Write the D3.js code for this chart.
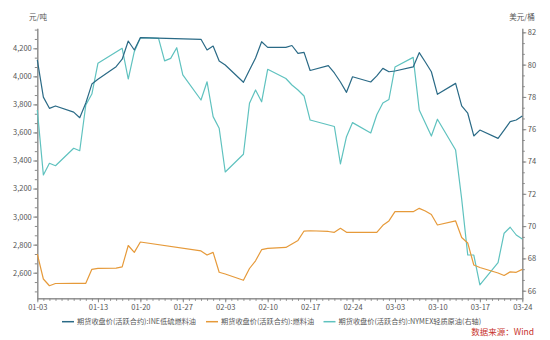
<!DOCTYPE html>
<html><head><meta charset="utf-8">
<script src="https://cdn.jsdelivr.net/npm/d3@7"></script>
<style>html,body{margin:0;padding:0;background:#fff;}svg{display:block;}</style>
</head><body><svg id="c" width="550" height="340"></svg>
<script>
const year = 2023;
const cnDates = ["01-03","01-04","01-05","01-06","01-09","01-10","01-11","01-12","01-13","01-16","01-17","01-18","01-19","01-20","01-30","01-31","02-01","02-02","02-03","02-06","02-07","02-08","02-09","02-10","02-13","02-14","02-15","02-16","02-17","02-20","02-21","02-22","02-23","02-24","02-27","02-28","03-01","03-02","03-03","03-06","03-07","03-08","03-09","03-10","03-13","03-14","03-15","03-16","03-17","03-20","03-21","03-22","03-23","03-24"];
const ineValues = [4117,3852,3772,3789,3745,3705,3810,3945,3979,4069,4122,4252,4188,4276,4264,4188,4216,4109,4081,3958,4045,4131,4247,4207,4207,4220,4164,4171,4042,4076,4024,3960,3886,3997,3960,4003,4057,4033,4038,4067,4169,4102,4033,3872,3950,3789,3737,3575,3617,3558,3617,3677,3689,3717];
const fuValues = [2733,2555,2507,2523,2524,2524,2524,2624,2631,2633,2641,2794,2745,2819,2755,2726,2745,2603,2591,2546,2630,2685,2764,2774,2780,2805,2830,2897,2899,2894,2888,2917,2888,2888,2888,2888,2938,2969,3035,3035,3059,3040,3015,2940,2969,2851,2812,2655,2637,2598,2580,2606,2603,2624];
const usDates = ["01-03","01-04","01-05","01-06","01-09","01-10","01-11","01-12","01-13","01-17","01-18","01-19","01-20","01-23","01-24","01-25","01-26","01-27","01-30","01-31","02-01","02-02","02-03","02-06","02-07","02-08","02-09","02-10","02-13","02-14","02-15","02-16","02-17","02-21","02-22","02-23","02-24","02-27","02-28","03-01","03-02","03-03","03-06","03-07","03-08","03-09","03-10","03-13","03-14","03-15","03-16","03-17","03-20","03-21","03-22","03-23","03-24"];
const wtiValues = [77.19,73.17,73.89,73.74,74.82,74.67,77.5,78.18,80.08,81.01,79.11,80.80,81.67,81.63,80.23,80.39,81.05,79.36,77.81,78.94,76.78,76.06,73.35,74.45,77.61,78.43,77.70,79.71,79.14,78.74,78.43,78.06,76.57,76.17,73.85,75.54,76.41,75.77,76.9,77.62,77.84,79.85,80.45,77.19,76.39,75.58,76.62,74.71,71.68,68.21,68.21,66.36,67.74,69.56,69.93,69.45,69.2];
const xTickLabels = ["01-03","01-13","01-20","01-27","02-03","02-10","02-17","02-24","03-03","03-10","03-17","03-24"];
const leftTicks = [2600,2800,3000,3200,3400,3600,3800,4000,4200];
const rightTicks = [66,68,70,72,74,76,78,80,82];
const seriesNames = ["期货收盘价(活跃合约):INE低硫燃料油","期货收盘价(活跃合约):燃料油","期货收盘价(活跃合约):NYMEX轻质原油(右轴)"];
const colors = ["#2a6a86","#e69a3a","#5fc2bf"];

const parse = s => new Date(year, +s.slice(0,2)-1, +s.slice(3));
const svg = d3.select("#c");
const FONT = "'Noto Sans CJK SC','Noto Sans',sans-serif";
const L = 37.3, R = 522.3, T = 28.3, B = 298.3;

const x = d3.scaleTime().domain([parse("01-03"), parse("03-24")]).range([L, R]);
const yL = d3.scaleLinear().domain([2417.5, 4342.6]).range([B, T]);
const yR = d3.scaleLinear().domain([65.53, 82.25]).range([B, T]);

const axisColor = "#8a8a8a", textColor = "#555";

function styleAxis(g){
  g.selectAll("path.domain").attr("stroke", axisColor).attr("stroke-width",1);
  g.selectAll(".tick line").attr("stroke", axisColor);
  g.selectAll(".tick text").attr("fill", textColor).attr("font-family", FONT).attr("font-size", 7.5);
}

// minor ticks left
const minorL = d3.range(2600 - 2*200/3, 4342, 200/3).filter(v => v > 2417.5);
svg.append("g").attr("transform", `translate(${L},0)`)
  .call(d3.axisLeft(yL).tickValues(minorL).tickSize(2.5).tickFormat("").tickSizeOuter(0)).call(styleAxis);
svg.append("g").attr("transform", `translate(${L},0)`)
  .call(d3.axisLeft(yL).tickValues(leftTicks).tickSize(4).tickPadding(1.5).tickFormat(d3.format(",")).tickSizeOuter(0)).call(styleAxis);

// right
const minorR = d3.range(66 - 2/3, 82.25, 2/3).filter(v => v > 65.53);
svg.append("g").attr("transform", `translate(${R},0)`)
  .call(d3.axisRight(yR).tickValues(minorR).tickSize(2.5).tickFormat("").tickSizeOuter(0)).call(styleAxis);
svg.append("g").attr("transform", `translate(${R},0)`)
  .call(d3.axisRight(yR).tickValues(rightTicks).tickSize(4).tickPadding(1.5).tickFormat(d3.format("d")).tickSizeOuter(0)).call(styleAxis);

// x axis
const days = d3.timeDay.range(parse("01-03"), d3.timeDay.offset(parse("03-24"),1));
svg.append("g").attr("transform", `translate(0,${B})`)
  .call(d3.axisBottom(x).tickValues(days).tickSize(2.5).tickFormat("").tickSizeOuter(0)).call(styleAxis);
svg.append("g").attr("transform", `translate(0,${B})`)
  .call(d3.axisBottom(x).tickValues(xTickLabels.map(parse)).tickSize(4).tickPadding(2.5).tickFormat(d3.timeFormat("%m-%d")).tickSizeOuter(0)).call(styleAxis);

// unit labels
svg.append("text").attr("x", 38).attr("y", 19.5).attr("text-anchor","middle")
  .attr("font-family", FONT).attr("font-size", 7.5).attr("fill", textColor).text("元/吨");
svg.append("text").attr("x", 522).attr("y", 19.5).attr("text-anchor","middle")
  .attr("font-family", FONT).attr("font-size", 7.5).attr("fill", textColor).text("美元/桶");

// lines
const lineL = d3.line().x(d => x(d[0])).y(d => yL(d[1]));
const lineR = d3.line().x(d => x(d[0])).y(d => yR(d[1]));
const ineData = cnDates.map((d,i) => [parse(d), ineValues[i]]);
const fuData = cnDates.map((d,i) => [parse(d), fuValues[i]]);
const wtiData = usDates.map((d,i) => [parse(d), wtiValues[i]]);

svg.append("path").datum(wtiData).attr("d", lineR).attr("fill","none").attr("stroke", colors[2]).attr("stroke-width",1.2).attr("stroke-linejoin","round");
svg.append("path").datum(fuData).attr("d", lineL).attr("fill","none").attr("stroke", colors[1]).attr("stroke-width",1.2).attr("stroke-linejoin","round");
svg.append("path").datum(ineData).attr("d", lineL).attr("fill","none").attr("stroke", colors[0]).attr("stroke-width",1.2).attr("stroke-linejoin","round");

// legend
const legendX = [62, 206, 323.5];
const lg = svg.append("g");
seriesNames.forEach((n,i) => {
  lg.append("line").attr("x1", legendX[i]).attr("x2", legendX[i]+12).attr("y1", 321.7).attr("y2", 321.7)
    .attr("stroke", colors[i]).attr("stroke-width", 1.5);
  lg.append("text").attr("x", legendX[i]+15).attr("y", 324.3).attr("font-family", FONT).attr("font-size", 7.2)
    .attr("fill", textColor).text(n);
});

svg.append("text").attr("x", 534).attr("y", 334.5).attr("text-anchor","end")
  .attr("font-family", FONT).attr("font-size", 8.5).attr("fill", "#c8332b").text("数据来源：Wind");
</script></body></html>
